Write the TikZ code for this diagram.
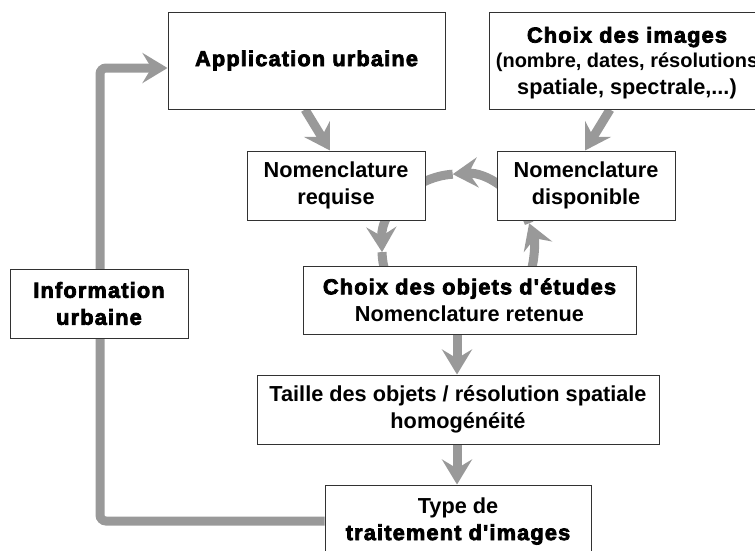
\documentclass[tikz,border=0pt]{standalone}
\usepackage{fontspec}
\setmainfont{Liberation Sans}
\newfontfamily\regbold{Liberation Sans Bold}
\newfontfamily\heavy[FakeBold=3.5,LetterSpace=5.5]{Liberation Sans Bold}
\usetikzlibrary{arrows.meta,backgrounds}
\definecolor{arrowgray}{RGB}{153,153,153}
\definecolor{boxline}{RGB}{50,50,50}
\begin{document}
\begin{tikzpicture}[x=1pt,y=-1pt,
  box/.style={draw=boxline, line width=1pt, fill=white, inner sep=0pt, align=center,
    font=\regbold\fontsize{21.7pt}{27pt}\selectfont},
  txt/.style={inner sep=0pt, align=center, font=\regbold\fontsize{21.7pt}{27pt}\selectfont},
  ar/.style={draw=arrowgray, line width=9pt,
    -{Stealth[length=25pt,width=30pt,inset=9pt]}},
  plain/.style={draw=arrowgray, line width=9pt}]
\useasboundingbox (0,0) rectangle (755,550);
\clip (0,0) rectangle (755,550);

\node[box, minimum width=277pt, minimum height=97pt] (app) at (306.5,60.5) {\heavy Application urbaine};
\node[box, minimum width=276pt, minimum height=97pt] (img) at (627,60.5) {};
\node[txt] (imgt) at (627,63) {\heavy Choix des images\\[-2pt]\fontsize{20pt}{26pt}\selectfont (nombre, dates, résolutions\\ spatiale, spectrale,...)};
\node[box, minimum width=178pt, minimum height=69pt] (req) at (336,185.5) {Nomenclature\\requise};
\node[box, minimum width=178pt, minimum height=69pt] (dis) at (586,185.5) {Nomenclature\\disponible};
\node[box, minimum width=333pt, minimum height=68pt] (obj) at (469.5,300) {\heavy Choix des objets d'études\\\regbold Nomenclature retenue};
\node[box, minimum width=402pt, minimum height=69pt] (tai) at (458,409.5) {Taille des objets / résolution spatiale\\homogénéité};
\node[box, minimum width=266pt, minimum height=72pt] (typ) at (458,521) {Type de\\\heavy traitement d'images};
\node[box, minimum width=178pt, minimum height=69pt] (inf) at (99,303.5) {\heavy Information\\\heavy urbaine};

\coordinate (cc) at (458,250);
\coordinate (fbx) at (100,0);
\coordinate (fby) at (0,68);
\coordinate (a1) at (305,0);
\coordinate (a2) at (330,0);
\coordinate (b1) at (610,0);
\coordinate (b2) at (585,0);
\coordinate (vx) at (457,0);

\begin{pgfonlayer}{background}
  % feedback loop
  \draw[ar, rounded corners=6pt] (typ.west) -- (typ.west -| fbx) -- (fbx |- fby) -- (app.west |- fby);
  % diagonal arrows
  \draw[ar] (app.south -| a1) -- (req.north -| a2);
  \draw[ar] (img.south -| b1) -- (dis.north -| b2);
  % vertical arrows
  \draw[ar] (obj.south -| vx) -- (tai.north -| vx);
  \draw[ar] (tai.south -| vx) -- (typ.north -| vx);
  % cycle
  \draw[ar] (cc) ++(-15:76pt) arc[start angle=-15, end angle=20.6, radius=76pt];
  \draw[ar] (cc) ++(20.6:76pt) arc[start angle=20.6, end angle=94, radius=76pt];
  \draw[ar] (cc) ++(94:76pt) arc[start angle=94, end angle=181.6, radius=76pt];
  \draw[plain] (cc) ++(181.6:76pt) arc[start angle=181.6, end angle=200, radius=76pt];
\end{pgfonlayer}
\end{tikzpicture}
\end{document}
